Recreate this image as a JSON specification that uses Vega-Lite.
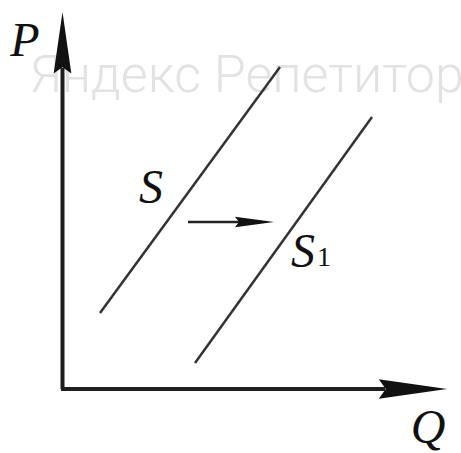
{
  "$schema": "https://vega.github.io/schema/vega-lite/v6.json",
  "width": 461,
  "height": 453,
  "autosize": {"type": "none"},
  "padding": 0,
  "background": "white",
  "config": {"view": {"stroke": null}},
  "resolve": {"scale": {"x": "shared", "y": "shared"}},
  "layer": [
    {
      "data": {"values": [{"x": 30, "y": 361, "t": "Яндекс Репетитор"}]},
      "mark": {"type": "text", "align": "left", "baseline": "alphabetic", "font": "Roboto", "fontSize": 52, "fontWeight": 300, "color": "#e2e2e2"},
      "encoding": {
        "x": {"field": "x", "type": "quantitative", "scale": {"domain": [0, 461], "nice": false, "zero": false}, "axis": null},
        "y": {"field": "y", "type": "quantitative", "scale": {"domain": [0, 453], "nice": false, "zero": false}, "axis": null},
        "text": {"field": "t"}
      }
    },
    {
      "data": {"values": [
        {"x": 62.5, "y": 64, "x2": 62.5, "y2": 385},
        {"x": 61, "y": 64, "x2": 385, "y2": 64}
      ]},
      "mark": {"type": "rule", "strokeWidth": 4, "color": "#1e1e1e", "strokeCap": "butt"},
      "encoding": {
        "x": {"field": "x", "type": "quantitative"},
        "y": {"field": "y", "type": "quantitative"},
        "x2": {"field": "x2"},
        "y2": {"field": "y2"}
      }
    },
    {
      "data": {"values": [
        {"curve": "S", "x": 100, "y": 140},
        {"curve": "S", "x": 280, "y": 386},
        {"curve": "S1", "x": 195, "y": 90},
        {"curve": "S1", "x": 372, "y": 336}
      ]},
      "mark": {"type": "line", "strokeWidth": 2.5, "color": "#333333"},
      "encoding": {
        "x": {"field": "x", "type": "quantitative"},
        "y": {"field": "y", "type": "quantitative"},
        "detail": {"field": "curve"}
      }
    },
    {
      "data": {"values": [{"x": 188, "y": 231, "x2": 245, "y2": 231}]},
      "mark": {"type": "rule", "strokeWidth": 2.5, "color": "#222222"},
      "encoding": {
        "x": {"field": "x", "type": "quantitative"},
        "y": {"field": "y", "type": "quantitative"},
        "x2": {"field": "x2"},
        "y2": {"field": "y2"}
      }
    },
    {
      "data": {"values": [{"x": 62.5, "y": 409.5}]},
      "mark": {"type": "point", "shape": "M0,-1L0.28,0.95L0,0.75L-0.28,0.95Z", "size": 4000, "filled": true, "color": "#111111", "opacity": 1, "angle": 0},
      "encoding": {
        "x": {"field": "x", "type": "quantitative"},
        "y": {"field": "y", "type": "quantitative"}
      }
    },
    {
      "data": {"values": [{"x": 412, "y": 64}]},
      "mark": {"type": "point", "shape": "M0,-1L0.28,0.95L0,0.75L-0.28,0.95Z", "size": 4900, "filled": true, "color": "#111111", "opacity": 1, "angle": 90},
      "encoding": {
        "x": {"field": "x", "type": "quantitative"},
        "y": {"field": "y", "type": "quantitative"}
      }
    },
    {
      "data": {"values": [{"x": 254, "y": 231}]},
      "mark": {"type": "point", "shape": "M0,-1L0.26,0.95L0,0.75L-0.26,0.95Z", "size": 1600, "filled": true, "color": "#111111", "opacity": 1, "angle": 90},
      "encoding": {
        "x": {"field": "x", "type": "quantitative"},
        "y": {"field": "y", "type": "quantitative"}
      }
    },
    {
      "data": {"values": [
        {"x": 151, "y": 264, "t": "S"},
        {"x": 303, "y": 200, "t": "S"},
        {"x": 25, "y": 411, "t": "P"},
        {"x": 428, "y": 24, "t": "Q"}
      ]},
      "mark": {"type": "text", "align": "center", "baseline": "middle", "font": "Liberation Serif", "fontStyle": "italic", "fontSize": 48, "color": "#111111"},
      "encoding": {
        "x": {"field": "x", "type": "quantitative"},
        "y": {"field": "y", "type": "quantitative"},
        "text": {"field": "t"}
      }
    },
    {
      "data": {"values": [{"x": 324, "y": 195, "t": "1"}]},
      "mark": {"type": "text", "align": "center", "baseline": "middle", "font": "Liberation Serif", "fontSize": 28, "color": "#111111"},
      "encoding": {
        "x": {"field": "x", "type": "quantitative"},
        "y": {"field": "y", "type": "quantitative"},
        "text": {"field": "t"}
      }
    }
  ]
}
